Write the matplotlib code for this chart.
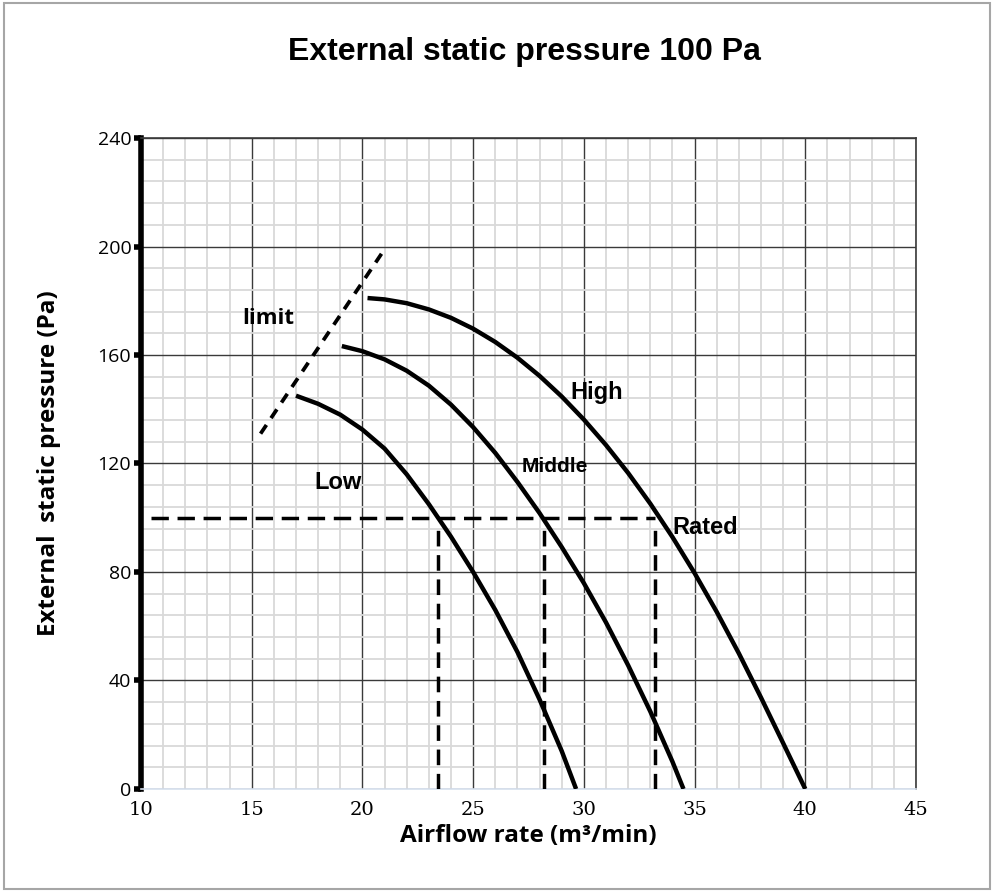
import matplotlib
matplotlib.use("Agg")
import matplotlib.pyplot as plt
from matplotlib.patches import Rectangle
from matplotlib.ticker import MultipleLocator

# fan curves (airflow m3/min, pressure Pa)
high_x = [20.23, 21, 22, 23, 24, 25, 26, 27, 28, 29, 30, 31, 32, 33, 34, 35, 36, 37, 38, 39, 40]
high_y = [181.0, 180.5, 179.1, 176.8, 173.7, 169.7, 164.8, 159.0, 152.3, 144.7, 136.2,
          126.8, 116.5, 105.2, 92.9, 79.6, 65.3, 50.0, 33.7, 16.9, 0.0]

mid_x = [19.07, 20, 21, 22, 23, 24, 25, 26, 27, 28, 29, 30, 31, 32, 33, 34, 34.5]
mid_y = [163.3, 161.4, 158.4, 154.2, 148.7, 141.7, 133.4, 123.9, 113.2, 101.7, 89.2,
         75.9, 61.4, 45.6, 28.6, 10.1, 0.0]

low_x = [17, 18, 19, 20, 21, 22, 23, 24, 25, 26, 27, 28, 29, 29.65]
low_y = [145.0, 142.0, 138.0, 132.5, 125.5, 116.0, 105.0, 93.0, 80.0, 66.0, 50.5, 33.0, 14.0, 0.0]

limit_x = [15.4, 21.0]
limit_y = [131.0, 199.0]

rated_p = 100
rated_x = [23.4, 28.2, 33.2]
rated_start = 10.45

x_ticks = [10, 15, 20, 25, 30, 35, 40, 45]
y_ticks = [0, 40, 80, 120, 160, 200, 240]

fig = plt.figure(figsize=(9.95, 8.91), dpi=100)
ax = fig.add_axes([0.1417, 0.1145, 0.7789, 0.7306])

ax.set_xlim(10, 45)
ax.set_ylim(0, 240)
ax.xaxis.set_minor_locator(MultipleLocator(1))
ax.yaxis.set_minor_locator(MultipleLocator(8))
ax.set_xticks(x_ticks)
ax.set_yticks(y_ticks)

ax.grid(which="minor", color="#d9d9d9", linewidth=1.3, zorder=0)
ax.grid(which="major", color="#3a3a3a", linewidth=1.0, zorder=1)
ax.set_axisbelow(True)

for side in ["top", "right"]:
    ax.spines[side].set_color("#3a3a3a")
    ax.spines[side].set_linewidth(1.2)
ax.spines["bottom"].set_color("#d6e0ee")
ax.spines["bottom"].set_linewidth(1.2)
ax.spines["left"].set_color("black")
ax.spines["left"].set_linewidth(4)

ax.tick_params(axis="x", which="both", length=0, pad=9)
ax.tick_params(axis="y", which="major", length=5, width=4, direction="out", pad=2)
ax.tick_params(axis="y", which="minor", length=0)
for lab in ax.get_xticklabels():
    lab.set_fontfamily("DejaVu Serif")
    lab.set_fontsize(14)
for lab in ax.get_yticklabels():
    lab.set_fontfamily("Open Sans")
    lab.set_fontsize(14)

# curves
for xs, ys in [(high_x, high_y), (mid_x, mid_y), (low_x, low_y)]:
    ax.plot(xs, ys, color="black", linewidth=3.2, solid_capstyle="butt",
            solid_joinstyle="round", zorder=3)

ax.plot(limit_x, limit_y, color="black", linewidth=2.7, linestyle=(0, (2.8, 2.2)), zorder=3)

# rated working point lines
ax.plot([rated_start, rated_x[-1]], [rated_p, rated_p], color="black",
        linewidth=2.5, linestyle=(0, (5, 2.5)), zorder=3)
for rx in rated_x:
    ax.plot([rx, rx], [0, rated_p - 3], color="black", linewidth=2.5,
            linestyle=(0, (4.5, 2.5)), zorder=3)

# labels
ax.text(15.73, 173.5, "limit", fontsize=16, fontweight="bold", fontfamily="Open Sans",
        ha="center", va="center")
ax.text(30.6, 146, "High", fontsize=17, fontweight="bold", fontfamily="Liberation Sans",
        ha="center", va="center")
ax.text(28.7, 119, "Middle", fontsize=15, fontweight="bold", fontfamily="Liberation Sans",
        ha="center", va="center")
ax.text(18.9, 113, "Low", fontsize=17, fontweight="bold", fontfamily="Liberation Sans",
        ha="center", va="center")
ax.text(35.5, 96.5, "Rated", fontsize=17, fontweight="bold", fontfamily="Liberation Sans",
        ha="center", va="center")

fig.text(0.527, 0.942, "External static pressure 100 Pa", fontsize=23, fontweight="bold",
         fontfamily="Liberation Sans", ha="center", va="center")
ax.set_xlabel("Airflow rate (m³/min)", fontsize=17.5, fontweight="bold",
              fontfamily="Open Sans", labelpad=3)
ax.set_ylabel("External  static pressure (Pa)", fontsize=17.5, fontweight="bold",
              fontfamily="Open Sans", labelpad=26)

# frame around the figure
fig.patches.append(Rectangle((0.004, 0.002), 0.991, 0.995, transform=fig.transFigure,
                             fill=False, edgecolor="#a6a6a6", linewidth=1.5))

fig.savefig("out.png", dpi=100)
